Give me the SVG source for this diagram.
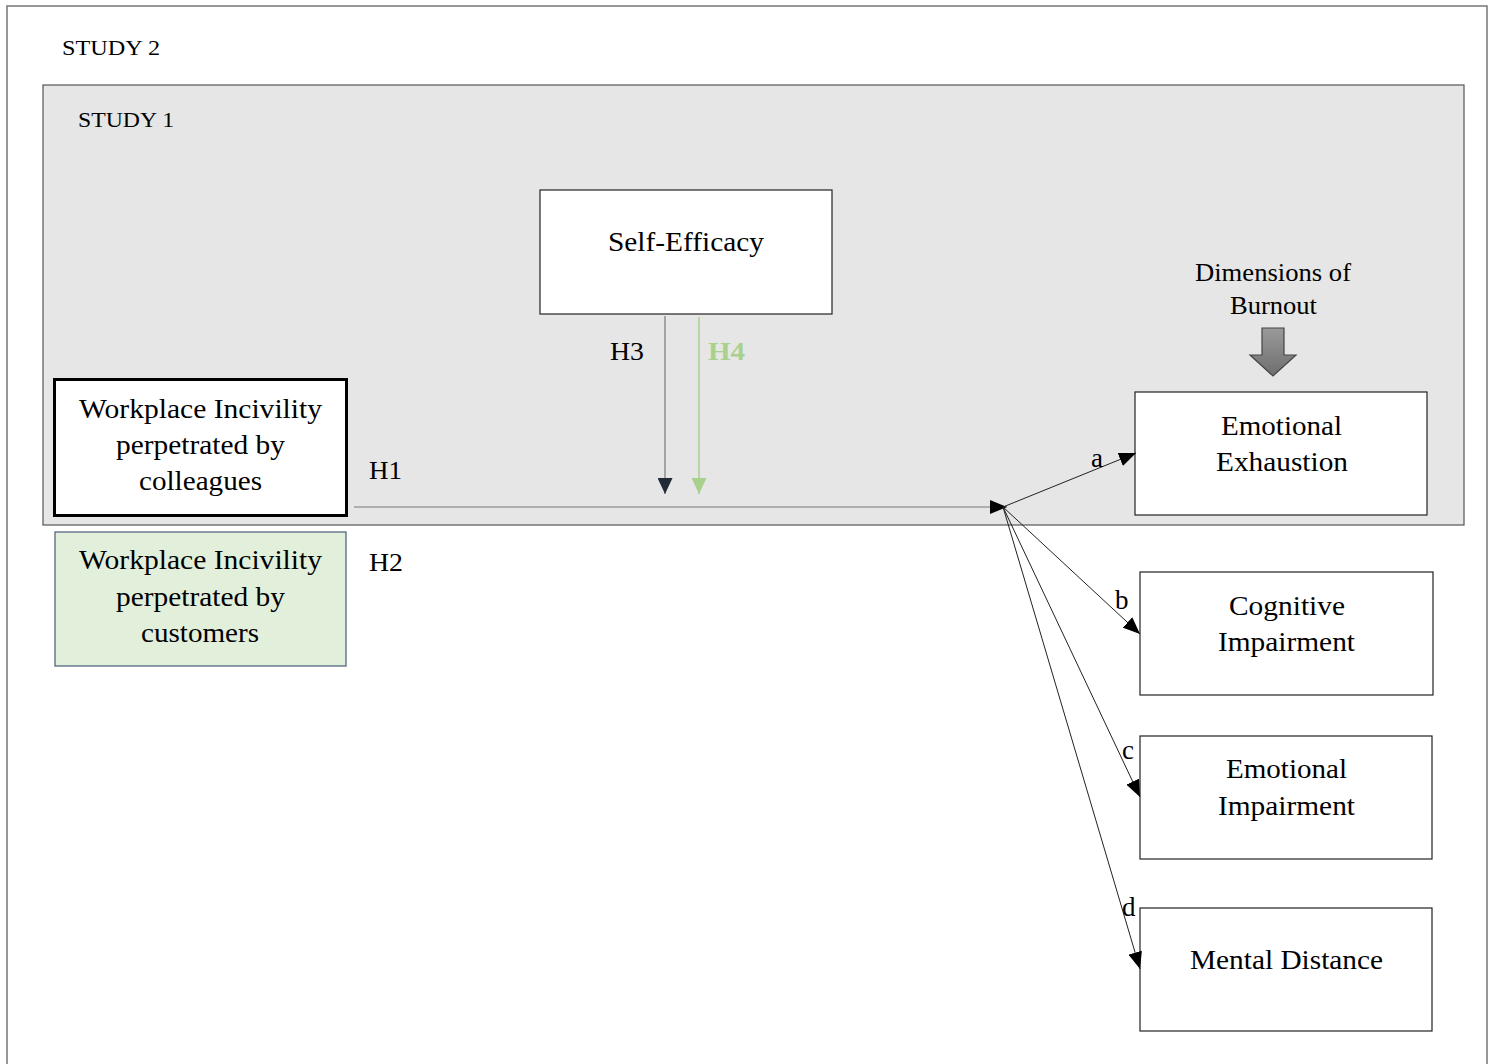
<svg xmlns="http://www.w3.org/2000/svg" width="1493" height="1064" viewBox="0 0 1493 1064">
<style>
text{font-family:"Liberation Serif","Times New Roman",serif;fill:#000}
.t26{font-size:27px;text-anchor:middle}
.t24{font-size:25px}
.t20{font-size:21px}
.box{fill:#fff;stroke:#222;stroke-width:1.2}
.ln{stroke:#222;stroke-width:1;fill:none}
</style>
<defs>
<marker id="ah" viewBox="0 0 17 14" refX="17" refY="7" markerWidth="17" markerHeight="14" markerUnits="userSpaceOnUse" orient="auto">
<path d="M0,0 L17,7 L0,14 Z" fill="#000"/>
</marker>
<marker id="ahd" viewBox="0 0 16 15" refX="16" refY="7.5" markerWidth="16" markerHeight="15" markerUnits="userSpaceOnUse" orient="auto">
<path d="M0,0 L16,7.5 L0,15 Z" fill="#222a35"/>
</marker>
<marker id="ahg" viewBox="0 0 16 15" refX="16" refY="7.5" markerWidth="16" markerHeight="15" markerUnits="userSpaceOnUse" orient="auto">
<path d="M0,0 L16,7.5 L0,15 Z" fill="#a9d18e"/>
</marker>
<linearGradient id="gr" x1="0" y1="0" x2="0" y2="1">
<stop offset="0" stop-color="#9a9a9a"/>
<stop offset="1" stop-color="#6e6e6e"/>
</linearGradient>
</defs>
<rect width="1493" height="1064" fill="#fff"/>
<g id="study2">
<rect x="7" y="6" width="1480" height="1070" fill="#fff" stroke="#777" stroke-width="1.5"/>
<text class="t20" x="62" y="55" textLength="98" lengthAdjust="spacingAndGlyphs">STUDY 2</text>
</g>
<g id="study1">
<rect x="43" y="85" width="1421" height="440" fill="#e6e6e6" stroke="#555" stroke-width="1.2"/>
<text class="t20" x="78" y="127" textLength="96" lengthAdjust="spacingAndGlyphs">STUDY 1</text>
</g>
<g id="self-efficacy">
<rect class="box" x="540" y="190" width="292" height="124"/>
<text class="t26" x="686" y="251" textLength="156" lengthAdjust="spacingAndGlyphs">Self-Efficacy</text>
</g>
<g id="wi-colleagues">
<rect x="54.5" y="379.5" width="292" height="136" fill="#fff" stroke="#000" stroke-width="3"/>
<text class="t26" x="200.5" y="418" textLength="243" lengthAdjust="spacingAndGlyphs">Workplace Incivility</text>
<text class="t26" x="200.5" y="454" textLength="169" lengthAdjust="spacingAndGlyphs">perpetrated by</text>
<text class="t26" x="200.5" y="490" textLength="123" lengthAdjust="spacingAndGlyphs">colleagues</text>
</g>
<g id="wi-customers">
<rect x="55" y="532" width="291" height="134" fill="#e2efda" stroke="#4a5a7a" stroke-width="1.2"/>
<text class="t26" x="200.5" y="569" textLength="243" lengthAdjust="spacingAndGlyphs">Workplace Incivility</text>
<text class="t26" x="200.5" y="606" textLength="169" lengthAdjust="spacingAndGlyphs">perpetrated by</text>
<text class="t26" x="200" y="642" textLength="118" lengthAdjust="spacingAndGlyphs">customers</text>
</g>
<g id="dimensions">
<text class="t24" x="1273" y="281" text-anchor="middle" textLength="156" lengthAdjust="spacingAndGlyphs">Dimensions of</text>
<text class="t24" x="1273.5" y="314" text-anchor="middle" textLength="87" lengthAdjust="spacingAndGlyphs">Burnout</text>
<path d="M1262,328 H1284 V355 H1296 L1273,376 L1250,355 H1262 Z" fill="url(#gr)" stroke="#444" stroke-width="1.2"/>
</g>
<g id="emotional-exhaustion">
<rect class="box" x="1135" y="392" width="292" height="123"/>
<text class="t26" x="1281.5" y="435" textLength="121" lengthAdjust="spacingAndGlyphs">Emotional</text>
<text class="t26" x="1282" y="471" textLength="132" lengthAdjust="spacingAndGlyphs">Exhaustion</text>
</g>
<g id="cognitive-impairment">
<rect class="box" x="1140" y="572" width="293" height="123"/>
<text class="t26" x="1287" y="615" textLength="116" lengthAdjust="spacingAndGlyphs">Cognitive</text>
<text class="t26" x="1286.5" y="651" textLength="137" lengthAdjust="spacingAndGlyphs">Impairment</text>
</g>
<g id="emotional-impairment">
<rect class="box" x="1140" y="736" width="292" height="123"/>
<text class="t26" x="1286.5" y="778" textLength="121" lengthAdjust="spacingAndGlyphs">Emotional</text>
<text class="t26" x="1286.5" y="815" textLength="137" lengthAdjust="spacingAndGlyphs">Impairment</text>
</g>
<g id="mental-distance">
<rect class="box" x="1140" y="908" width="292" height="123"/>
<text class="t26" x="1286.5" y="969" textLength="193" lengthAdjust="spacingAndGlyphs">Mental Distance</text>
</g>
<g id="connectors">
<line x1="354" y1="507" x2="1007" y2="507" stroke="#777" stroke-width="1.2" marker-end="url(#ah)"/>
<line x1="665" y1="316" x2="665" y2="494" stroke="#777" stroke-width="1.2" marker-end="url(#ahd)"/>
<line x1="699" y1="317" x2="699" y2="494" stroke="#a9d18e" stroke-width="1.5" marker-end="url(#ahg)"/>
<line class="ln" x1="1003" y1="507" x2="1136" y2="453" marker-end="url(#ah)"/>
<line class="ln" x1="1003" y1="507" x2="1140" y2="634" marker-end="url(#ah)"/>
<line class="ln" x1="1003" y1="507" x2="1140" y2="797" marker-end="url(#ah)"/>
<line class="ln" x1="1003" y1="507" x2="1140" y2="969" marker-end="url(#ah)"/>
<text class="t24" x="369" y="479" textLength="33" lengthAdjust="spacingAndGlyphs">H1</text>
<text class="t24" x="369" y="571" textLength="34" lengthAdjust="spacingAndGlyphs">H2</text>
<text class="t24" x="610" y="360" textLength="34" lengthAdjust="spacingAndGlyphs">H3</text>
<text class="t24" x="708" y="360" font-weight="bold" style="fill:#a9d18e" textLength="37" lengthAdjust="spacingAndGlyphs">H4</text>
<text x="1091" y="467" style="font-size:27px">a</text>
<text x="1115" y="609" style="font-size:27px">b</text>
<text x="1122" y="759" style="font-size:27px">c</text>
<text x="1122" y="916" style="font-size:27px">d</text>
</g>
</svg>
